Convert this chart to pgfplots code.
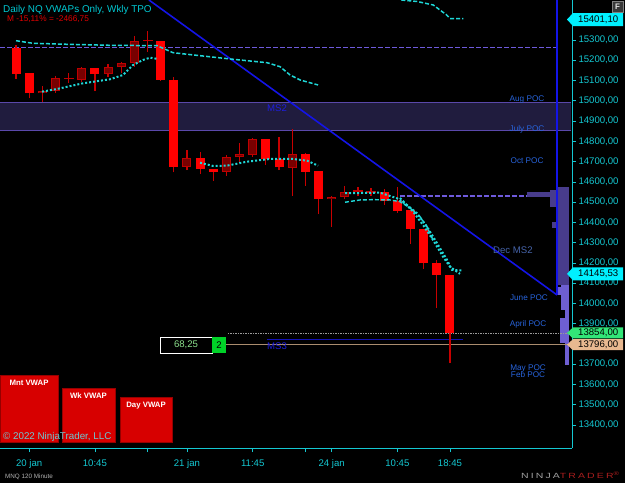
\documentclass[border=0pt]{standalone}
\usepackage{fontspec}
\setmainfont{Liberation Sans}
\usepackage{pgfplots}
\pgfplotsset{compat=1.18}
\usepackage{pgfplotstable}

\definecolor{axcyan}{RGB}{20,200,210}
\definecolor{titlecyan}{RGB}{0,200,210}
\definecolor{vwap}{RGB}{30,215,215}
\definecolor{candred}{RGB}{255,0,0}
\definecolor{updark}{RGB}{120,0,0}
\definecolor{upborder}{RGB}{190,0,0}
\definecolor{wickred}{RGB}{200,0,0}
\definecolor{bandfill}{RGB}{32,28,62}
\definecolor{bandline}{RGB}{90,72,170}
\definecolor{dashpurple}{RGB}{110,90,220}
\definecolor{blueline}{RGB}{20,20,230}
\definecolor{poc}{RGB}{40,100,220}
\definecolor{decms}{RGB}{70,100,170}
\definecolor{mstext}{RGB}{30,30,220}
\definecolor{profdark}{RGB}{72,60,140}
\definecolor{proflight}{RGB}{110,95,210}
\definecolor{boxred}{RGB}{215,0,0}
\definecolor{boxborder}{RGB}{150,0,0}
\definecolor{cyanbox}{RGB}{0,240,255}
\definecolor{greenbox}{RGB}{50,230,120}
\definecolor{tanbox}{RGB}{232,184,144}
\definecolor{tanline}{RGB}{170,140,110}
\definecolor{copyc}{RGB}{110,200,210}
\definecolor{ninjared}{RGB}{170,30,30}
\definecolor{ninjagray}{RGB}{160,160,160}
\definecolor{mredtext}{RGB}{225,0,0}
\definecolor{greentext}{RGB}{140,225,140}
\definecolor{greenfill}{RGB}{0,210,40}

\newcommand\ticfont{\fontsize{9.6}{10}\selectfont}
\newcommand\pocfont{\fontsize{8.2}{9}\selectfont}
\newcommand\msfont{\fontsize{9.6}{10}\selectfont}
\newcommand\boxfont{\bfseries\fontsize{7.8}{8}\selectfont}
\newfontfamily\ninjafont[FakeStretch=1.4, LetterSpace=28]{Liberation Sans}

\pgfplotstableread{
i o h l c t
0 15262 15275 15108 15132 0
1 15136 15136 15012 15037 0
2 15037 15073 14996 15050 1
3 15048 15122 15038 15111 1
4 15108 15137 15088 15114 2
5 15103 15168 15094 15160 1
6 15160 15162 15048 15132 0
7 15132 15180 15119 15168 1
8 15165 15193 15137 15185 1
9 15185 15320 15167 15297 1
10 15295 15344 15242 15301 2
11 15295 15295 15098 15103 0
12 15103 15119 14647 14675 0
13 14675 14757 14658 14716 1
14 14716 14746 14639 14662 0
15 14662 14663 14604 14650 0
16 14650 14732 14630 14721 1
17 14721 14793 14694 14737 1
18 14734 14816 14724 14810 1
19 14810 14811 14683 14711 0
20 14711 14820 14658 14672 0
21 14670 14859 14532 14736 1
22 14736 14744 14581 14650 0
23 14654 14654 14440 14515 0
24 14515 14532 14377 14527 1
25 14527 14580 14514 14551 1
26 14552 14576 14530 14558 2
27 14547 14570 14530 14553 2
28 14551 14565 14486 14505 0
29 14507 14576 14446 14456 0
30 14461 14461 14293 14366 0
31 14366 14366 14170 14198 0
32 14198 14215 13976 14140 0
33 14140 14140 13705 13854 0
}\candles

\begin{document}
\begin{tikzpicture}
\useasboundingbox (0pt,0pt) rectangle (625pt,483pt);
\fill[black] (0pt,0pt) rectangle (625pt,483pt);
\begin{axis}[
  at={(0pt,35pt)}, anchor=south west,
  width=572pt, height=448pt, scale only axis,
  xmin=-1.217, xmax=42.28, ymin=13286, ymax=15497.4,
  axis x line*=bottom, axis y line*=right,
  axis line style={draw=axcyan, line width=0.8pt, -},
  tick style={draw=axcyan, line width=0.6pt},
  tick align=outside, major tick length=4pt,
  xtick={1,6,10,13,18,22,24,29,33},
  xticklabels={20 jan,10:45,,21 jan,11:45,,24 jan,10:45,18:45},
  ytick={13400,13500,...,15300},
  scaled y ticks=false,
  yticklabel={\pgfmathprintnumber[fixed,fixed zerofill,precision=2,use comma,1000 sep={}]{\tick}},
  /pgf/number format/assume math mode=true,
  ticklabel style={font=\ticfont, text=axcyan},
  xticklabel style={yshift=-4.5pt},
  yticklabel style={xshift=-1pt},
  clip=false,
]
% band
\addplot[fill=bandfill, draw=none, forget plot] coordinates {(-1.217,14852.4) (42.18,14852.4) (42.18,14992.5) (-1.217,14992.5)} -- cycle;
\addplot[bandline, line width=1.2pt, forget plot] coordinates {(-1.217,14992.5) (42.18,14992.5)};
\addplot[bandline, line width=1.2pt, forget plot] coordinates {(-1.217,14852.4) (42.18,14852.4)};
% dashed purple levels
\addplot[dashpurple, line width=1.5pt, dash pattern=on 5pt off 2pt, forget plot] coordinates {(-1.217,15262) (41.14,15262)};
\addplot[dashpurple, line width=1.5pt, dash pattern=on 5pt off 2pt, forget plot] coordinates {(29.2,14530) (38.86,14530)};
% volume profile
\addplot[fill=profdark, draw=none, forget plot] coordinates {(38.86,14525) (41.14,14525) (41.14,14550) (38.86,14550)} -- cycle;
\addplot[fill=profdark, draw=none, forget plot] coordinates {(40.61,14476) (41.14,14476) (41.14,14560) (40.61,14560)} -- cycle;
\addplot[fill=profdark, draw=none, forget plot] coordinates {(40.76,14372) (41.14,14372) (41.14,14402) (40.76,14402)} -- cycle;
\addplot[fill=profdark, draw=none, forget plot] coordinates {(41.14,14091) (42.05,14091) (42.05,14575) (41.14,14575)} -- cycle;
\addplot[fill=proflight, draw=none, forget plot] coordinates {(41.75,13696) (42.05,13696) (42.05,14091) (41.75,14091)} -- cycle;
\addplot[fill=proflight, draw=none, forget plot] coordinates {(41.44,13968) (41.75,13968) (41.75,14091) (41.44,14091)} -- cycle;
\addplot[fill=proflight, draw=none, forget plot] coordinates {(41.37,13805) (41.75,13805) (41.75,13928) (41.37,13928)} -- cycle;
\addplot[fill=proflight, draw=none, forget plot] coordinates {(41.14,14042) (41.44,14042) (41.44,14081) (41.14,14081)} -- cycle;
% blue lines
\addplot[blueline, line width=1.6pt, forget plot] coordinates {(10.11,15497.4) (41.14,14041.6)};
\addplot[blueline, line width=1.6pt, forget plot] coordinates {(41.14,15497.4) (41.14,14041.6)};
% bottom horizontal lines
\addplot[gray!80!white, line width=0.7pt, dash pattern=on 1.5pt off 1pt, forget plot] coordinates {(16.12,13852.5) (42.28,13852.5)};
\addplot[tanline, line width=1pt, forget plot] coordinates {(15.97,13795) (42.28,13795)};
\addplot[blueline!80!black, line width=0.8pt, forget plot] coordinates {(19.09,13823) (33.99,13823)};
% candles: wicks
\addplot[draw=none, mark=none, forget plot,
  error bars/.cd, y dir=plus, y explicit, error mark=none,
  error bar style={draw=wickred, line width=1.2pt}]
  table[x=i, y=l, y error plus expr={\thisrow{h}-\thisrow{l}}] {\candles};
% down bodies
\addplot[draw=none, mark=none, forget plot,
  restrict expr to domain={\thisrow{t}}{0:0},
  error bars/.cd, y dir=plus, y explicit, error mark=none,
  error bar style={draw=candred, line width=9pt}]
  table[x=i, y expr={min(\thisrow{o},\thisrow{c})}, y error plus expr={abs(\thisrow{c}-\thisrow{o})}] {\candles};
% up bodies
\addplot[draw=none, mark=none, forget plot,
  restrict expr to domain={\thisrow{t}}{1:1},
  error bars/.cd, y dir=plus, y explicit, error mark=none,
  error bar style={draw=upborder, line width=9pt}]
  table[x=i, y expr={min(\thisrow{o},\thisrow{c})}, y error plus expr={abs(\thisrow{c}-\thisrow{o})}] {\candles};
\addplot[draw=none, mark=none, forget plot,
  restrict expr to domain={\thisrow{t}}{1:1},
  error bars/.cd, y dir=plus, y explicit, error mark=none,
  error bar style={draw=updark, line width=7pt, shorten <=1pt, shorten >=1pt}]
  table[x=i, y expr={min(\thisrow{o},\thisrow{c})}, y error plus expr={abs(\thisrow{c}-\thisrow{o})}] {\candles};
% doji
\addplot[draw=none, mark=none, forget plot,
  restrict expr to domain={\thisrow{t}}{2:2},
  error bars/.cd, y dir=plus, y explicit, error mark=none,
  error bar style={draw=upborder, line width=10pt}]
  table[x=i, y expr={min(\thisrow{o},\thisrow{c})}, y error plus expr={abs(\thisrow{c}-\thisrow{o})}] {\candles};
% VWAP lines
\addplot[vwap, line width=1.5pt, dash pattern=on 4pt off 2pt, forget plot] coordinates {(0,15296.5) (1.29,15283.7) (3.88,15278.8) (7.15,15273.8) (10.72,15271.9) (11.48,15250.6) (11.94,15237.3) (13.99,15222.5) (16.5,15204.8) (19.09,15188) (20.08,15168.2) (20.84,15127.3) (21.6,15102.6) (22.97,15078)};
\addplot[vwap, line width=1.5pt, dash pattern=on 4pt off 2pt, forget plot] coordinates {(29.3,15497.4) (30.5,15490) (31.73,15472.7) (32.75,15423.4) (33.0,15406) (34.02,15406)};
\addplot[vwap, line width=2pt, dash pattern=on 2pt off 2pt, forget plot] coordinates {(1.98,15044.9) (3.12,15058.2) (5.10,15086.3) (7.15,15106.1) (8.14,15127.3) (8.90,15176.6) (9.66,15201.3) (10.19,15212.7) (10.80,15206.2)};
\addplot[vwap, line width=2pt, dash pattern=on 2pt off 2pt, forget plot] coordinates {(13.99,14694.5) (14.98,14678.2) (16.05,14679.7) (17.57,14699.4) (19.32,14712.7) (21.06,14712.7) (22.13,14704.3) (22.97,14679.7)};
\addplot[vwap, line width=2pt, dash pattern=on 2pt off 2pt, forget plot] coordinates {(25.02,14543.5) (27.68,14546.4) (28.97,14518.8) (29.73,14485.7) (30.49,14444.8) (31.25,14378.6) (32.02,14296.7) (32.78,14214.3) (33.16,14165) (33.99,14162)};
\addplot[vwap, line width=2pt, dash pattern=on 2pt off 2pt, forget plot] coordinates {(29.2,14520.3) (30.19,14452.7) (30.95,14387.1) (31.71,14313.0) (32.47,14230.6) (33.0,14181.2) (33.76,14145.5)};
\addplot[vwap, line width=1.4pt, dash pattern=on 4pt off 2pt, forget plot] coordinates {(25.02,14499.1) (26.16,14510.4) (27.15,14511.9) (28.44,14510.4) (29.2,14502.0) (29.96,14470.9) (30.72,14428.0) (31.25,14378.6) (31.71,14313.0)};
% texts
\node[text=poc, font=\pocfont] at (axis cs:38.86,15003.9) {Aug POC};
\node[text=poc, font=\pocfont] at (axis cs:38.86,14860.8) {July POC};
\node[text=poc, font=\pocfont] at (axis cs:38.86,14702.9) {Oct POC};
\node[text=poc, font=\pocfont] at (axis cs:39.01,14026.8) {June POC};
\node[text=poc, font=\pocfont] at (axis cs:38.94,13898.4) {April POC};
\node[text=poc, font=\pocfont] at (axis cs:38.94,13676.4) {May POC};
\node[text=poc, font=\pocfont] at (axis cs:38.94,13646.8) {Feb POC};
\node[text=decms, font=\msfont] at (axis cs:37.79,14263.6) {Dec MS2};
\node[text=mstext, font=\msfont] at (axis cs:19.85,14964.4) {MS2};
\node[text=mstext, font=\msfont] at (axis cs:19.85,13789.9) {MS3};
% 68,25 box
\node[draw=white, fill=black, line width=0.8pt, minimum width=52pt, minimum height=16pt, inner sep=0pt, text=greentext, font=\ticfont] at (axis cs:12.93,13794.8) {68,25};
\node[fill=greenfill, minimum width=14pt, minimum height=16pt, inner sep=0pt, text=black, font=\ticfont] at (axis cs:15.44,13794.8) {2};
% VWAP legend boxes
\node[fill=boxred, draw=boxborder, minimum width=58pt, minimum height=67pt, inner sep=0pt, label={[anchor=north, text=white, font=\boxfont, yshift=-2pt]north:Mnt VWAP}] at (axis cs:0.99,13481.5) {};
\node[fill=boxred, draw=boxborder, minimum width=53pt, minimum height=54pt, inner sep=0pt, label={[anchor=north, text=white, font=\boxfont, yshift=-2pt]north:Wk VWAP}] at (axis cs:5.51,13449.4) {};
\node[fill=boxred, draw=boxborder, minimum width=52pt, minimum height=45pt, inner sep=0pt, label={[anchor=north, text=white, font=\boxfont, yshift=-2pt]north:Day VWAP}] at (axis cs:9.89,13427.2) {};
\coordinate (p1) at (axis cs:42.28,15401.1);
\coordinate (p2) at (axis cs:42.28,14145.53);
\coordinate (p3) at (axis cs:42.28,13854);
\coordinate (p4) at (axis cs:42.28,13796);
\end{axis}
% price boxes
\fill[cyanbox] ([xshift=-5pt]p1) -- ++(6pt,6.5pt) -- ++(50pt,0) -- ++(0,-13pt) -- ++(-50pt,0) -- cycle;
\node[anchor=west, font=\ticfont, text=black, inner sep=0pt] at ([xshift=6pt]p1) {15401,10};
\fill[cyanbox] ([xshift=-5pt]p2) -- ++(6pt,6.5pt) -- ++(50pt,0) -- ++(0,-13pt) -- ++(-50pt,0) -- cycle;
\node[anchor=west, font=\ticfont, text=black, inner sep=0pt] at ([xshift=6pt]p2) {14145,53};
\fill[greenbox] ([xshift=-5pt]p3) -- ++(6pt,5.5pt) -- ++(50pt,0) -- ++(0,-11pt) -- ++(-50pt,0) -- cycle;
\node[anchor=west, font=\ticfont, text=black, inner sep=0pt] at ([xshift=6pt]p3) {13854,00};
\fill[tanbox] ([xshift=-5pt]p4) -- ++(6pt,5.5pt) -- ++(50pt,0) -- ++(0,-11pt) -- ++(-50pt,0) -- cycle;
\node[anchor=west, font=\ticfont, text=black, inner sep=0pt] at ([xshift=6pt]p4) {13796,00};
% titles
\node[anchor=west, text=titlecyan, font=\fontsize{9.9}{10}\selectfont, inner sep=0pt] at (3pt,473.5pt) {Daily NQ VWAPs Only, Wkly TPO};
\node[anchor=west, text=mredtext, font=\fontsize{8.3}{9}\selectfont, inner sep=0pt] at (7pt,463.5pt) {M -15,11\% = -2466,75};
\node[anchor=west, text=copyc, font=\fontsize{9.8}{10}\selectfont, inner sep=0pt] at (3pt,46pt) {© 2022 NinjaTrader, LLC};
\node[anchor=west, text=gray!60!white, font=\fontsize{6.3}{7}\selectfont, inner sep=0pt] at (5pt,6.3pt) {MNQ 120 Minute};
\node[anchor=west, font=\ninjafont\fontsize{7.5}{8}\selectfont, inner sep=0pt] at (521pt,7.5pt) {\textcolor{ninjagray}{NINJA}\textcolor{ninjared}{TRADER\textsuperscript{®}}};
\node[fill=gray!45!black, draw=gray, minimum size=11pt, inner sep=0pt, text=white!80!gray, font=\bfseries\fontsize{8}{8}\selectfont] at (617.5pt,476.5pt) {F};
\end{tikzpicture}
\end{document}
